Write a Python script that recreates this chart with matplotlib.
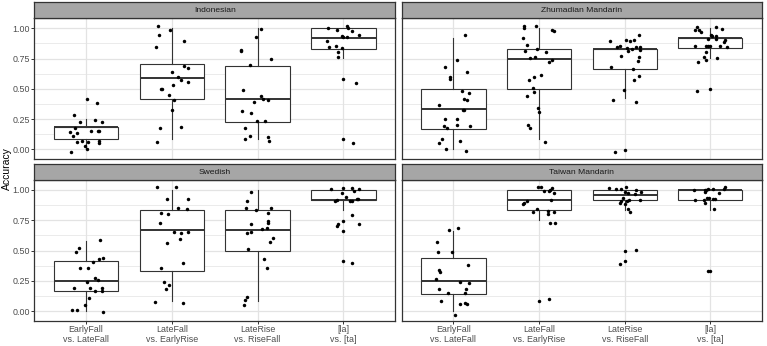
import matplotlib
matplotlib.use('Agg')
import matplotlib.pyplot as plt

plt.rcParams['font.family'] = ['Liberation Sans', 'DejaVu Sans']

categories = ["EarlyFall\nvs. LateFall", "LateFall\nvs. EarlyRise",
              "LateRise\nvs. RiseFall", "[la]\nvs. [ta]"]
languages = ["Indonesian", "Zhumadian Mandarin", "Swedish", "Taiwan Mandarin"]
y_ticks = [0.00, 0.25, 0.50, 0.75, 1.00]
y_tick_labels = ["0.00", "0.25", "0.50", "0.75", "1.00"]
y_label = "Accuracy"

# ---- jittered points (accuracy as drawn) and horizontal jitter offsets ----
indonesian_acc = [
    [0.416, 0.386, 0.284, 0.226, 0.240, 0.223, 0.179, 0.143, 0.113, 0.135, 0.154,
     0.152, 0.149, 0.058, 0.069, 0.058, 0.069, 0.052, 0.025, 0.003, -0.025],
    [1.022, 0.948, 0.983, 0.893, 0.846, 0.691, 0.672, 0.642, 0.595, 0.573, 0.559,
     0.501, 0.496, 0.529, 0.449, 0.405, 0.322, 0.176, 0.182, 0.058],
    [0.992, 0.928, 0.824, 0.813, 0.749, 0.700, 0.493, 0.441, 0.413, 0.410, 0.388,
     0.317, 0.303, 0.231, 0.237, 0.176, 0.113, 0.083, 0.099, 0.066],
    [1.019, 1.006, 1.000, 0.983, 0.978, 0.948, 0.934, 0.926, 0.926, 0.893, 0.848,
     0.851, 0.837, 0.802, 0.766, 0.584, 0.548, 0.083, 0.052],
]
indonesian_jit = [
    [0.008, 0.131, -0.142, -0.065, 0.104, 0.185, -0.127, -0.188, -0.150, -0.104, 0.062,
     0.142, 0.150, -0.104, -0.042, 0.031, 0.154, 0.158, -0.012, 0.012, -0.177],
    [-0.165, -0.146, -0.015, 0.146, -0.188, 0.138, 0.188, 0.008, 0.077, 0.108, 0.188,
     -0.123, -0.112, 0.015, -0.035, 0.027, 0.000, -0.135, 0.108, -0.169],
    [0.035, -0.023, -0.188, -0.196, 0.158, -0.085, -0.169, 0.035, 0.062, 0.119, -0.042,
     -0.181, -0.077, -0.012, 0.092, -0.142, -0.085, -0.150, 0.123, 0.131],
    [0.038, 0.054, -0.181, -0.081, 0.104, 0.181, -0.015, -0.004, 0.042, -0.196, -0.165,
     -0.085, -0.019, -0.062, -0.062, 0.000, 0.150, 0.000, 0.112],
]

zhumadian_acc = [
    [0.942, 0.738, 0.680, 0.636, 0.595, 0.584, 0.482, 0.468, 0.416, 0.405, 0.366, 0.328,
     0.328, 0.253, 0.253, 0.196, 0.198, 0.190, 0.174, 0.085, 0.069, 0.055, 0.000, -0.011],
    [1.017, 1.000, 1.017, 0.989, 0.978, 0.923, 0.860, 0.810, 0.826, 0.807, 0.755, 0.760,
     0.741, 0.719, 0.614, 0.598, 0.576, 0.504, 0.471, 0.438, 0.342, 0.311, 0.201, 0.174, 0.063],
    [0.942, 0.904, 0.904, 0.895, 0.893, 0.851, 0.848, 0.846, 0.846, 0.837, 0.815, 0.832,
     0.818, 0.774, 0.763, 0.730, 0.678, 0.667, 0.603, 0.573, 0.490, 0.408, 0.388, -0.019, -0.003],
    [1.011, 0.986, 0.989, 0.970, 1.008, 0.994, 0.948, 0.934, 0.939, 0.909, 0.909, 0.906,
     0.884, 0.851, 0.857, 0.854, 0.851, 0.857, 0.843, 0.804, 0.763, 0.736, 0.725, 0.755,
     0.482, 0.501],
]
zhumadian_jit = [
    [0.135, 0.038, -0.100, 0.162, -0.035, -0.035, 0.096, 0.177, 0.123, 0.158, -0.173, 0.115,
     0.127, -0.100, 0.046, -0.112, 0.038, 0.192, -0.077, -0.131, 0.073, -0.169, -0.081, 0.146],
    [-0.181, -0.181, -0.038, 0.150, 0.177, -0.185, -0.146, -0.162, -0.023, 0.081, -0.104, -0.042,
     0.146, 0.112, 0.027, -0.062, -0.115, -0.073, -0.062, -0.135, -0.015, 0.000, -0.127, -0.108, 0.073],
    [0.173, 0.108, 0.019, 0.058, -0.177, -0.054, -0.092, 0.131, 0.177, 0.027, 0.042, 0.085,
     0.181, -0.038, 0.169, 0.154, -0.154, 0.100, 0.169, 0.108, -0.004, -0.135, 0.138, -0.112, 0.000],
    [-0.154, -0.177, -0.127, -0.108, 0.062, 0.142, 0.004, 0.015, 0.069, -0.027, 0.069, 0.177,
     0.165, -0.173, -0.050, -0.027, -0.008, 0.115, 0.192, -0.054, -0.073, -0.054, -0.142, 0.077,
     -0.150, 0.000],
]

swedish_acc = [
    [0.587, 0.518, 0.490, 0.433, 0.435, 0.405, 0.353, 0.355, 0.275, 0.256, 0.237, 0.193,
     0.187, 0.193, 0.168, 0.165, 0.107, 0.052, 0.011, 0.006, -0.006],
    [1.025, 1.025, 0.923, 0.923, 0.854, 0.840, 0.813, 0.802, 0.727, 0.653, 0.645, 0.653,
     0.592, 0.562, 0.397, 0.358, 0.237, 0.218, 0.185, 0.072, 0.063],
    [0.981, 0.912, 0.854, 0.837, 0.854, 0.810, 0.747, 0.730, 0.719, 0.686, 0.675, 0.647,
     0.656, 0.603, 0.570, 0.515, 0.427, 0.358, 0.113, 0.091, 0.052],
    [1.008, 1.019, 1.014, 1.008, 0.972, 0.989, 0.945, 0.926, 0.915, 0.909, 0.912, 0.923,
     0.912, 0.747, 0.722, 0.700, 0.722, 0.796, 0.664, 0.416, 0.394],
]
swedish_jit = [
    [0.162, -0.081, -0.119, 0.150, 0.196, 0.081, -0.065, 0.027, 0.108, 0.146, 0.012, -0.135,
     0.054, 0.185, 0.192, 0.104, 0.038, -0.012, -0.158, -0.104, 0.196],
    [-0.169, 0.054, -0.050, 0.192, 0.069, 0.173, -0.119, -0.046, -0.142, 0.031, 0.108, 0.188,
     0.100, -0.050, 0.135, -0.123, -0.088, -0.027, -0.062, -0.196, 0.131],
    [-0.077, -0.119, -0.138, -0.019, 0.154, 0.123, 0.127, 0.123, -0.073, 0.112, 0.054, -0.119,
     -0.073, 0.181, 0.150, -0.108, 0.077, 0.112, -0.119, -0.146, -0.162],
    [-0.146, -0.004, 0.100, 0.177, -0.012, 0.123, 0.035, 0.154, -0.073, -0.100, 0.077, 0.169,
     0.104, 0.000, -0.062, -0.081, 0.177, 0.100, -0.004, 0.000, 0.096],
]

taiwan_acc = [
    [0.689, 0.667, 0.567, 0.485, 0.488, 0.380, 0.336, 0.325, 0.264, 0.237, 0.229, 0.182,
     0.179, 0.146, 0.149, 0.083, 0.058, 0.063, 0.061, -0.030],
    [1.022, 1.022, 0.989, 0.994, 1.000, 1.014, 0.978, 0.915, 0.909, 0.895, 0.884, 0.843,
     0.821, 0.829, 0.815, 0.804, 0.730, 0.730, 0.080, 0.102],
    [1.014, 1.008, 1.008, 1.022, 1.003, 0.986, 0.975, 0.970, 0.983, 0.937, 0.920, 0.917,
     0.906, 0.912, 0.890, 0.882, 0.843, 0.821, 0.499, 0.501, 0.416, 0.388],
    [1.025, 1.008, 1.011, 1.000, 1.011, 1.000, 0.997, 0.978, 0.983, 0.915, 0.917, 0.934,
     0.934, 0.895, 0.928, 0.928, 0.843, 0.333, 0.331],
]
taiwan_jit = [
    [0.050, -0.054, -0.192, -0.185, -0.019, 0.173, -0.165, -0.162, -0.200, 0.073, 0.185,
     -0.165, 0.142, -0.058, 0.131, -0.146, 0.073, 0.131, 0.154, 0.023],
    [-0.015, 0.019, 0.062, 0.112, 0.131, 0.150, 0.169, 0.135, -0.138, -0.181, -0.188,
     -0.027, -0.069, 0.108, 0.169, 0.108, 0.123, 0.185, -0.004, 0.115],
    [-0.188, -0.104, -0.046, 0.019, 0.127, 0.000, 0.038, 0.115, 0.188, -0.023, 0.046,
     0.181, -0.046, 0.027, -0.058, 0.000, 0.038, 0.065, 0.000, 0.131, 0.000, -0.054],
    [0.177, 0.154, 0.035, -0.058, -0.023, -0.046, -0.188, 0.096, -0.062, -0.177, -0.077,
     -0.042, -0.015, -0.065, 0.027, 0.058, 0.038, -0.031, -0.008],
]

# ---- boxplot statistics per category ----
indonesian_q1 = [0.085, 0.416, 0.229, 0.832]
indonesian_med = [0.182, 0.587, 0.419, 0.917]
indonesian_q3 = [0.187, 0.708, 0.686, 1.000]
indonesian_lo = [0.000, 0.085, 0.085, 0.752]
indonesian_hi = [0.248, 1.000, 1.000, 1.000]

zhumadian_q1 = [0.165, 0.501, 0.666, 0.835]
zhumadian_med = [0.333, 0.749, 0.833, 0.917]
zhumadian_q3 = [0.499, 0.832, 0.833, 0.917]
zhumadian_lo = [0.000, 0.085, 0.421, 0.752]
zhumadian_hi = [0.920, 1.000, 0.833, 1.000]

swedish_q1 = [0.163, 0.328, 0.499, 0.917]
swedish_med = [0.248, 0.667, 0.667, 0.917]
swedish_q3 = [0.413, 0.832, 0.832, 1.000]
swedish_lo = [0.000, 0.085, 0.080, 0.835]
swedish_hi = [0.581, 1.000, 1.000, 1.000]

taiwan_q1 = [0.143, 0.832, 0.915, 0.917]
taiwan_med = [0.248, 0.917, 0.959, 1.000]
taiwan_q3 = [0.435, 1.000, 1.000, 1.000]
taiwan_lo = [0.000, 0.749, 0.832, 0.835]
taiwan_hi = [0.664, 1.000, 1.000, 1.000]

panels = [
    (indonesian_acc, indonesian_jit, indonesian_q1, indonesian_med, indonesian_q3, indonesian_lo, indonesian_hi),
    (zhumadian_acc, zhumadian_jit, zhumadian_q1, zhumadian_med, zhumadian_q3, zhumadian_lo, zhumadian_hi),
    (swedish_acc, swedish_jit, swedish_q1, swedish_med, swedish_q3, swedish_lo, swedish_hi),
    (taiwan_acc, taiwan_jit, taiwan_q1, taiwan_med, taiwan_q3, taiwan_lo, taiwan_hi),
]

W, H = 767, 346
fig = plt.figure(figsize=(W / 100, H / 100), dpi=100)

# panel rectangles in pixels
col_x = [(34.3, 395.0), (402.0, 761.7)]
row_y = [(18.3, 159.3), (180.0, 321.0)]
strip_h = 16.0

dark = '#333333'
grid_c = '#E3E3E3'
positions = [1, 2, 3, 4]

for idx, (name, data) in enumerate(zip(languages, panels)):
    r, c = divmod(idx, 2)
    x0, x1 = col_x[c]
    yt, yb = row_y[r]
    ax = fig.add_axes([x0 / W, 1 - yb / H, (x1 - x0) / W, (yb - yt) / H])
    acc, jit, q1, med, q3, lo, hi = data

    stats = []
    for i in range(4):
        stats.append(dict(q1=q1[i], med=med[i], q3=q3[i], whislo=lo[i], whishi=hi[i], fliers=[]))
    ax.bxp(stats, positions=positions, widths=0.75, showfliers=False, showcaps=False,
           patch_artist=True, manage_ticks=False,
           boxprops=dict(facecolor='white', edgecolor=dark, lw=0.8),
           medianprops=dict(color=dark, lw=1.4),
           whiskerprops=dict(color=dark, lw=0.8),
           zorder=2)

    for i in range(4):
        xs = [positions[i] + j for j in jit[i]]
        ax.plot(xs, acc[i], 'o', color='black', ms=2.5, mew=0, zorder=3)

    ax.set_xlim(0.4, 4.6)
    ax.set_ylim(-0.0826, 1.0826)
    ax.set_yticks(y_ticks)
    ax.set_yticks([0.125, 0.375, 0.625, 0.875], minor=True)
    ax.set_xticks(positions)
    ax.grid(which='major', color=grid_c, lw=0.9, zorder=0)
    ax.grid(which='minor', axis='y', color=grid_c, lw=0.5, zorder=0)
    ax.set_axisbelow(True)

    for s in ax.spines.values():
        s.set_color(dark)
        s.set_linewidth(0.9)

    ax.tick_params(which='minor', length=0)
    ax.tick_params(which='major', length=2.2, width=0.7, color=dark,
                   labelsize=6.4, labelcolor='#4D4D4D', pad=1.0)
    if c == 0:
        ax.set_yticklabels(y_tick_labels)
    else:
        ax.tick_params(axis='y', left=False, labelleft=False)
    if r == 1:
        ax.set_xticklabels(categories, linespacing=1.1)
    else:
        ax.tick_params(axis='x', bottom=False, labelbottom=False)

    # strip
    sax = fig.add_axes([x0 / W, 1 - yt / H, (x1 - x0) / W, strip_h / H])
    sax.set_facecolor('#A6A6A6')
    sax.set_xticks([])
    sax.set_yticks([])
    for s in sax.spines.values():
        s.set_color(dark)
        s.set_linewidth(0.9)
    sax.text(0.5, 0.5, name, ha='center', va='center', fontsize=6.1,
             color='#1A1A1A', transform=sax.transAxes)

fig.text(7.0 / W, 1 - 169 / H, y_label, rotation=90, ha='center', va='center',
         fontsize=7.5, color='black')

fig.savefig('out.png', dpi=100)
